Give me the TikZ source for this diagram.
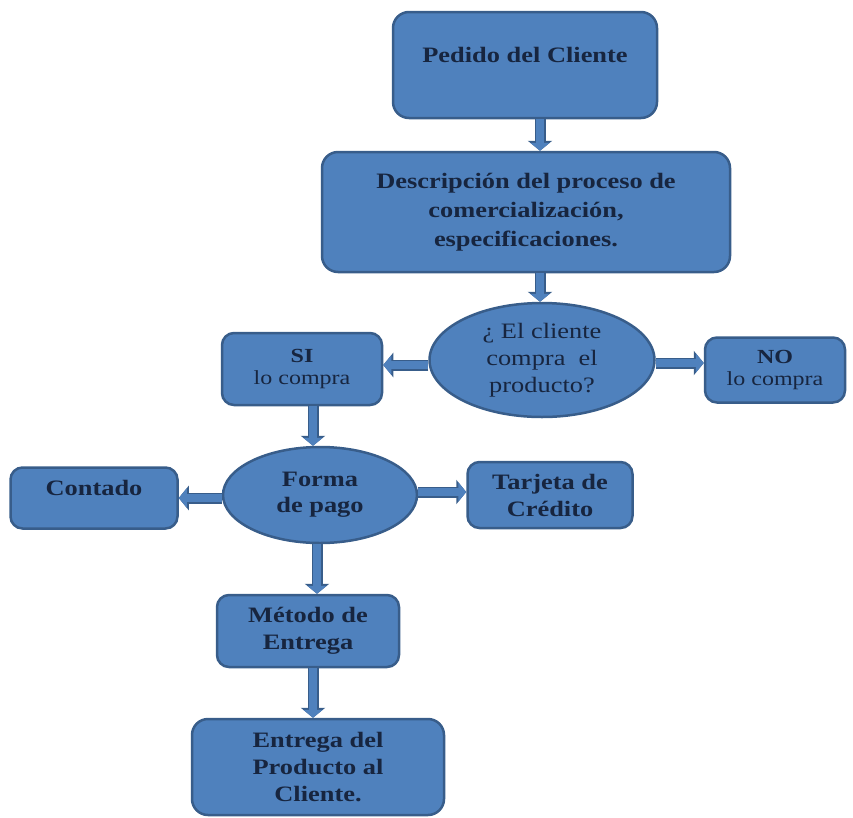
\documentclass[tikz,border=0pt]{standalone}
\usepackage{fontspec}
\setmainfont{Liberation Serif}[FakeStretch=1.2]
\usetikzlibrary{shapes.geometric,arrows.meta}
\definecolor{cajafondo}{HTML}{4F81BD}
\definecolor{cajaborde}{HTML}{385D8A}
\definecolor{letra}{HTML}{17253F}
\begin{document}
\begin{tikzpicture}
  [x=1pt,y=-1pt,
   caja/.style={rectangle,rounded corners=12pt,draw=cajaborde,line width=2.5pt,
     fill=cajafondo,text=letra,align=center,inner sep=0pt,
     font=\fontsize{22}{27}\selectfont\bfseries},
   elipse/.style={ellipse,draw=cajaborde,line width=2.5pt,fill=cajafondo,
     text=letra,align=center,inner sep=0pt,
     font=\fontsize{22}{26}\selectfont\bfseries},
   flecha/.style={draw=cajafondo,line width=8pt,
     -{Triangle[width=19pt,length=8pt]},
     preaction={draw=cajaborde,line width=11pt,-{Triangle[width=24pt,length=10pt]}}}]
  \useasboundingbox (0,0) rectangle (853,817);
  \node[caja,rounded corners=16pt,minimum width=264,minimum height=106,text depth=21pt] (pedido) at (525,65) {Pedido del Cliente};
  \node[caja,rounded corners=16pt,minimum width=408,minimum height=120,font=\fontsize{22}{29}\selectfont\bfseries] (desc) at (526,212)
    {Descripción del proceso de\\comercialización,\\especificaciones.};
  \node[elipse,minimum width=225,minimum height=114,font=\fontsize{22}{27}\selectfont] (compra) at (542,360)
    {¿ El cliente\\compra\ \ el\\producto?};
  \node[caja,minimum width=160,minimum height=72,font=\fontsize{20}{22}\selectfont] (si) at (302,369)
    {\textbf{SI}\\lo compra};
  \node[caja,minimum width=140,minimum height=65,font=\fontsize{20}{22}\selectfont] (no) at (775,370)
    {\textbf{NO}\\lo compra};
  \node[elipse,minimum width=194,minimum height=96] (pago) at (320,495) {Forma\\de pago};
  \node[caja,minimum width=167,minimum height=61,text depth=21pt] (contado) at (94,498) {Contado};
  \node[caja,minimum width=165,minimum height=66] (tarjeta) at (550,495) {Tarjeta de\\Crédito};
  \node[caja,minimum width=182,minimum height=72] (metodo) at (308,631) {Método de\\Entrega};
  \node[caja,rounded corners=16pt,minimum width=252,minimum height=96] (entrega) at (318,767)
    {Entrega del\\Producto al\\Cliente.};

  \draw[flecha] ([xshift=15pt]pedido.south) -- ([xshift=14pt]desc.north);
  \draw[flecha] ([xshift=14pt]desc.south) -- ([xshift=-2pt]compra.north);
  \draw[flecha] ([yshift=4pt]si.east -| compra.west) -- ([yshift=4pt]si.east);
  \draw[flecha] ([yshift=7pt]no.west -| compra.east) -- ([yshift=7pt]no.west);
  \draw[flecha] ([xshift=11pt]si.south) -- ([xshift=11pt]si.south |- pago.north);
  \draw[flecha] (contado.east -| pago.west) -- (contado.east);
  \draw[flecha] ([yshift=3pt]tarjeta.west -| pago.east) -- ([yshift=3pt]tarjeta.west);
  \draw[flecha] ([xshift=9pt]metodo.north |- pago.south) -- ([xshift=9pt]metodo.north);
  \draw[flecha] ([xshift=5pt]metodo.south) -- ([xshift=5pt]metodo.south |- entrega.north);
\end{tikzpicture}
\end{document}
